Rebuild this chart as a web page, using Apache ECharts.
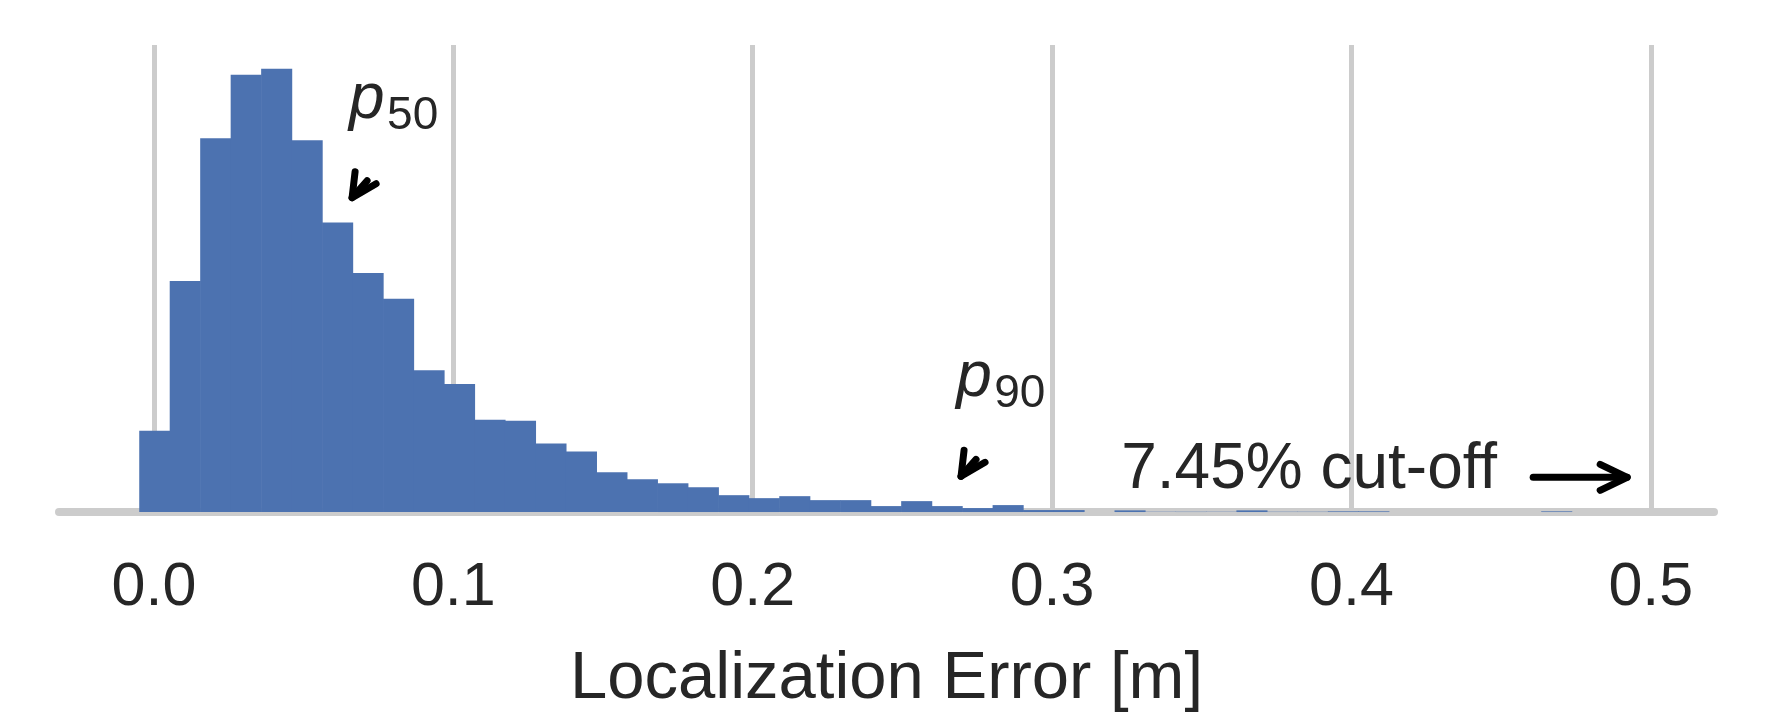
<!DOCTYPE html>
<html>
<head>
<meta charset="utf-8">
<title>Localization Error</title>
<script src="https://cdn.jsdelivr.net/npm/echarts@6/dist/echarts.min.js"></script>
<style>
  html, body { margin: 0; padding: 0; background: #fff; }
  #main { width: 1778px; height: 718px; }
</style>
</head>
<body>
<div id="main"></div>
<script>
// histogram bins (left edge of first bin and bin width, in m)
var binStart = -0.0049;
var binWidth = 0.01018;

// bar heights (arbitrary count units)
var counts = [82, 233, 377, 441, 447, 375, 292, 241, 215, 143,
              129, 93, 92, 69, 61, 40, 33, 29, 25, 17,
              14, 16, 12, 12, 6, 11, 6, 4, 7, 2,
              2, 0, 1.7, 0.3, 0.3, 0.3, 1.7, 0.3, 0.3, 0.7,
              0.7, 0, 0, 0, 0, 0, 0.7, 0, 0, 0];

var tickValues = [0, 0.1, 0.2, 0.3, 0.4, 0.5];
var xName = 'Localization Error [m]';

// percentile marks: subscript, arrow tip [x, count], text anchor [x, count]
var percentiles = [
  { sub: '50', tip: [0.0662, 317], text: [0.0652, 393] },
  { sub: '90', tip: [0.2696, 36], text: [0.2680, 113] }
];
var cutoffLabel = '7.45% cut-off';
var cutoffText = [0.3231, 20];
var cutoffArrow = [[0.4607, 35], [0.4921, 35]];

var FONT = '"Liberation Sans", Arial, sans-serif';
var TXT = '#262626';

var bins = [];
for (var i = 0; i < counts.length; i++) {
  bins.push([binStart + i * binWidth, binStart + (i + 1) * binWidth, counts[i]]);
}

var chart = echarts.init(document.getElementById('main'), null, { renderer: 'canvas' });

var option = {
  animation: false,
  backgroundColor: '#ffffff',
  grid: { left: 59, right: 64, top: 45, bottom: 198 },
  xAxis: {
    type: 'value',
    min: -0.0317,
    max: 0.5211,
    name: xName,
    nameLocation: 'middle',
    nameGap: 130,
    nameTextStyle: { fontFamily: FONT, fontSize: 67, lineHeight: 67, color: TXT },
    axisLine: { show: true, lineStyle: { color: '#cccccc', width: 8 } },
    axisTick: { show: false, customValues: tickValues },
    axisLabel: {
      customValues: tickValues,
      margin: 42,
      fontFamily: FONT, fontSize: 61, lineHeight: 61, color: TXT,
      formatter: function (v) { return v.toFixed(1); }
    },
    splitLine: { show: true, lineStyle: { color: '#cccccc', width: 5 } }
  },
  yAxis: {
    type: 'value', min: -4, max: 471,
    show: false,
    splitLine: { show: false }
  },
  series: [{
    type: 'custom',
    data: bins,
    encode: { x: [0, 1], y: 2 },
    renderItem: function (params, api) {
      var a = api.coord([api.value(0), api.value(2)]);
      var b = api.coord([api.value(1), 0]);
      return {
        type: 'rect',
        shape: { x: a[0], y: a[1], width: b[0] - a[0] + 0.6, height: b[1] - a[1] },
        style: { fill: '#4c72b0' }
      };
    }
  }]
};
chart.setOption(option);

// annotations anchored to data coordinates
function px(p) { return chart.convertToPixel({ gridIndex: 0 }, p); }
var g = [];
var asc = 0.34;
percentiles.forEach(function (m) {
  var t = px(m.text);
  g.push({ type: 'text', z: 10, x: t[0], y: t[1] - asc * 64,
    style: { text: 'p', font: 'italic 64px ' + FONT, fill: TXT, verticalAlign: 'middle', align: 'left' } });
  g.push({ type: 'text', z: 10, x: t[0] + 38, y: t[1] + 10 - asc * 46,
    style: { text: m.sub, font: '46px ' + FONT, fill: TXT, verticalAlign: 'middle', align: 'left' } });
  var k = px(m.tip);
  g.push({ type: 'polyline', z: 10,
    shape: { points: [[k[0] + 3, k[1] - 26], [k[0], k[1]], [k[0] + 24, k[1] - 14]] },
    style: { stroke: '#000', lineWidth: 7, lineCap: 'round', lineJoin: 'round', fill: null } });
  g.push({ type: 'line', z: 10,
    shape: { x1: k[0], y1: k[1], x2: k[0] + 15, y2: k[1] - 17 },
    style: { stroke: '#000', lineWidth: 7, lineCap: 'round' } });
});
var ct = px(cutoffText);
g.push({ type: 'text', z: 10, x: ct[0], y: ct[1] - asc * 64,
  style: { text: cutoffLabel, font: '64px ' + FONT, fill: TXT, verticalAlign: 'middle', align: 'left' } });
var a0 = px(cutoffArrow[0]), a1 = px(cutoffArrow[1]);
g.push({ type: 'line', z: 10,
  shape: { x1: a0[0], y1: a0[1], x2: a1[0], y2: a1[1] },
  style: { stroke: '#000', lineWidth: 7, lineCap: 'round' } });
g.push({ type: 'polyline', z: 10,
  shape: { points: [[a1[0] - 27, a1[1] - 13], [a1[0], a1[1]], [a1[0] - 27, a1[1] + 13]] },
  style: { stroke: '#000', lineWidth: 7, lineCap: 'round', lineJoin: 'round', fill: null } });
chart.setOption({ graphic: g });
</script>
</body>
</html>
